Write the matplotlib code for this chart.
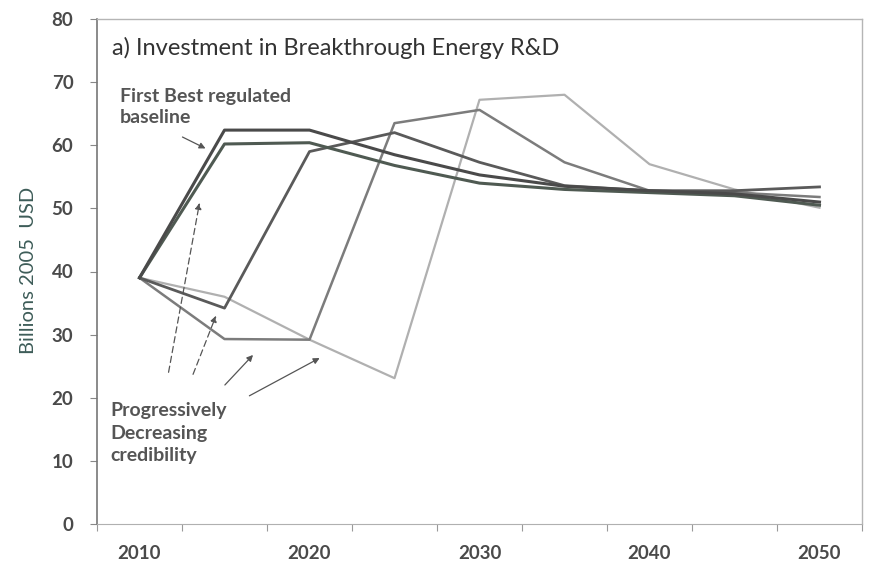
import matplotlib.pyplot as plt
import numpy as np

years = [2010, 2015, 2020, 2025, 2030, 2035, 2040, 2045, 2050]

# scenario series, billions 2005 USD
first_best = [39.0, 62.4, 62.4, 58.5, 55.3, 53.5, 52.8, 52.3, 51.0]
regulated = [39.0, 60.2, 60.4, 56.8, 54.0, 53.0, 52.5, 52.0, 50.5]
delay_2015 = [39.0, 34.2, 59.0, 62.0, 57.3, 53.6, 52.8, 52.8, 53.4]
delay_2020 = [39.0, 29.3, 29.2, 63.5, 65.6, 57.3, 52.8, 52.5, 51.8]
delay_2025 = [39.0, 36.0, 29.2, 23.1, 67.2, 68.0, 57.0, 53.0, 50.1]

xlabels = ['2010', '2020', '2030', '2040', '2050']
xlabel_pos = [2010, 2020, 2030, 2040, 2050]
yticks = [0, 10, 20, 30, 40, 50, 60, 70, 80]

plt.rcParams['font.family'] = ['Lato', 'DejaVu Sans']

fig = plt.figure(figsize=(8.71, 5.72), dpi=100)
ax = fig.add_axes([97/871, 1-524/572, (862-97)/871, (524-19)/572])

ax.plot(years, delay_2025, color='#b0b0b0', lw=1.6)
ax.plot(years, delay_2020, color='#7c7c7c', lw=1.8)
ax.plot(years, delay_2015, color='#5a5a5a', lw=2.0)
ax.plot(years, regulated, color='#4f5a52', lw=2.2)
ax.plot(years, first_best, color='#4a4a4a', lw=2.2)

ax.set_xlim(2007.5, 2052.5)
ax.set_ylim(0, 80)
ax.set_yticks(yticks)
ax.set_xticks(np.arange(2007.5, 2053, 5))
ax.set_xticklabels([])
ax.set_xticks(xlabel_pos, minor=True)
ax.set_xticklabels(xlabels, minor=True)
ax.tick_params(axis='x', which='minor', length=0, pad=15)
ax.tick_params(axis='x', which='major', length=5, color='#999999', direction='out')
ax.tick_params(axis='y', length=5, color='#888888', pad=12)
for lab in ax.get_xticklabels(minor=True) + ax.get_yticklabels():
    lab.set_fontsize(13.5)
    lab.set_fontweight('bold')
    lab.set_color('#4a4a4a')

for side in ['top', 'right']:
    ax.spines[side].set_color('#b5b5b5')
    ax.spines[side].set_linewidth(1.0)
ax.spines['bottom'].set_color('#b0b0b0')
ax.spines['left'].set_color('#777777')
ax.spines['left'].set_linewidth(1.2)

ax.text(2008.38, 75.4, 'a) Investment in Breakthrough Energy R&D', fontsize=17,
        color='#333333', va='center', ha='left')
ax.text(2008.85, 66.0, 'First Best regulated\nbaseline', fontsize=14, fontweight='bold',
        color='#555555', va='center', ha='left', linespacing=1.3)
ax.text(2008.26, 14.4, 'Progressively\nDecreasing\ncredibility', fontsize=14,
        fontweight='bold', color='#555555', va='center', ha='left', linespacing=1.4)

fig.text(28/871, 1-270/572, 'Billions 2005  USD', rotation=90, fontsize=14.5,
         color='#3d5c58', ha='center', va='center')

arr = dict(arrowstyle='-|>', color='#555555', lw=0.9, mutation_scale=9)
ax.annotate('', xy=(2014.03, 59.3), xytext=(2012.38, 61.5), arrowprops=arr)
ax.annotate('', xy=(2013.56, 51.3), xytext=(2011.68, 23.6),
            arrowprops=dict(arr, linestyle=(0, (5, 3))))
ax.annotate('', xy=(2014.56, 33.4), xytext=(2013.09, 23.3),
            arrowprops=dict(arr, linestyle=(0, (5, 3))))
ax.annotate('', xy=(2016.79, 27.1), xytext=(2014.91, 21.7), arrowprops=arr)
ax.annotate('', xy=(2020.74, 26.5), xytext=(2016.32, 20.1), arrowprops=arr)

fig.savefig('out.png', dpi=100)
